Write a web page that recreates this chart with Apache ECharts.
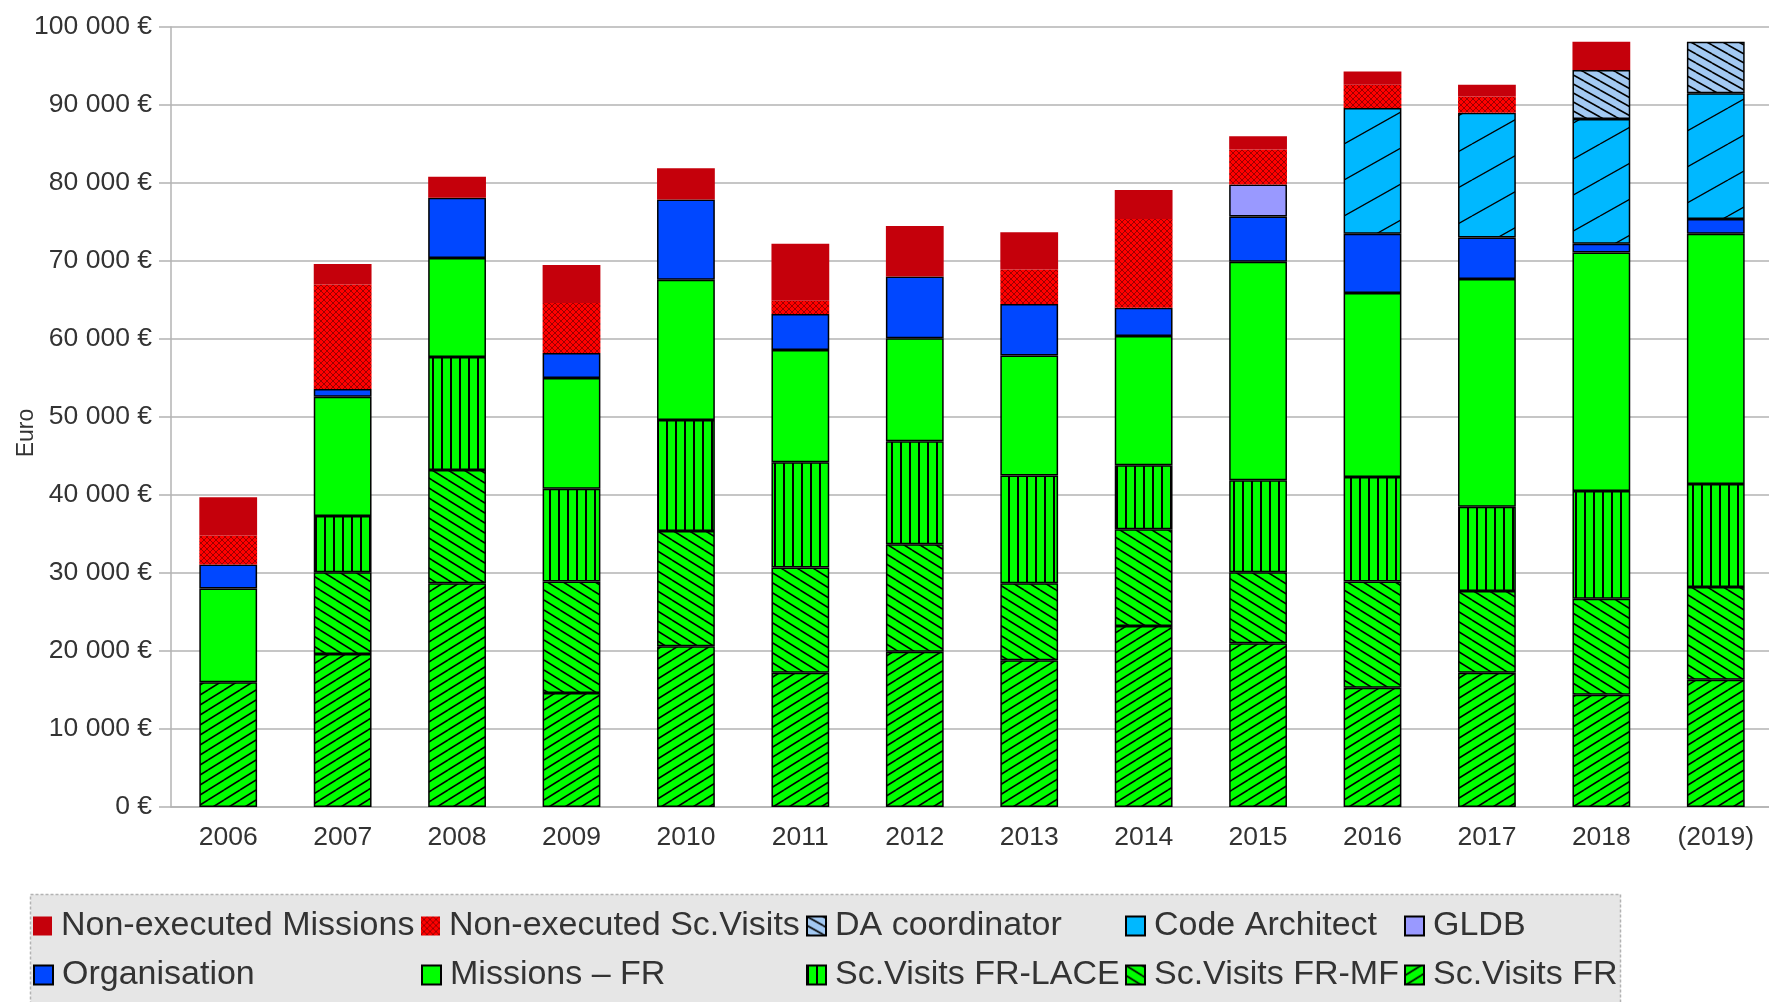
<!DOCTYPE html>
<html>
<head>
	<meta charset="UTF-8">
	<title>Budget par année</title>
	<script src="https://cdn.jsdelivr.net/npm/echarts@6/dist/echarts.min.js"></script>
	<style>
		html, body { margin: 0; padding: 0; background: #fff; }
		#main { width: 1769px; height: 1002px; }
	</style>
</head>
<body>
	<div id="main"></div>
	<script>

	var years = ['2006', '2007', '2008', '2009', '2010', '2011', '2012', '2013', '2014', '2015', '2016', '2017', '2018', '(2019)'];

	// euros (0 = no segment)
	var scVisitsFR   = [16000, 19600, 28700, 14600, 20600, 17200, 19900, 18800, 23200, 21000, 15300, 17200, 14400, 16300];
	var scVisitsMF   = [0, 10500, 14500, 14300, 14800, 13500, 13800, 9900, 12400, 9100, 13600, 10500, 12300, 11900];
	var scVisitsLACE = [0, 7200, 14500, 11900, 14200, 13500, 13200, 13800, 8200, 11800, 13400, 10800, 13800, 13200];
	var missionsFR   = [12000, 15300, 12700, 14200, 18000, 14400, 13200, 15400, 16600, 28000, 23600, 29200, 30600, 32100];
	var organisation = [3100, 1000, 7700, 3200, 10300, 4600, 7900, 6600, 3600, 5800, 7600, 5300, 1100, 1900];
	var gldb         = [0, 0, 0, 0, 0, 0, 0, 0, 0, 4100, 0, 0, 0, 0];
	var codeArchitect = [0, 0, 0, 0, 0, 0, 0, 0, 0, 0, 16100, 16000, 16000, 16100];
	var daCoordinator = [0, 0, 0, 0, 0, 0, 0, 0, 0, 0, 0, 0, 6300, 6600];
	var nonExecVisits = [3700, 13400, 0, 6400, 0, 1700, 0, 4400, 11400, 4500, 3000, 2100, 0, 0];
	var nonExecMissions = [4900, 2600, 2700, 4900, 4000, 7300, 6500, 4800, 3700, 1700, 1700, 1500, 3600, 0];

	var yTicks = { min: 0, max: 100000, step: 10000 };

	var fontFam = 'Liberation Sans';
	var gridGrey = '#b3b3b3';

	// hatch fills
	function tile(w, h, bg, draw, stroke, lw) {
		var c = document.createElement('canvas');
		c.width = w;
		c.height = h;
		var g = c.getContext('2d');
		g.fillStyle = bg;
		g.fillRect(0, 0, w, h);
		g.strokeStyle = stroke || '#000';
		g.fillStyle = stroke || '#000';
		g.lineWidth = lw || 1.6;
		draw(g, w, h);
		return { image: c, repeat: 'repeat' };
	}
	function slash(g, w, h) {
		for (var k = -1; k <= 1; k++) {
			g.beginPath();
			g.moveTo(0, h + k * h);
			g.lineTo(w, k * h);
			g.stroke();
		}
	}
	function backslash(g, w, h) {
		for (var k = -1; k <= 1; k++) {
			g.beginPath();
			g.moveTo(0, k * h);
			g.lineTo(w, h + k * h);
			g.stroke();
		}
	}
	function vertical(g, w, h) {
		g.fillRect(0, 0, 2, h);
	}
	function cross(g, w, h) {
		slash(g, w, h);
		backslash(g, w, h);
	}

	var seriesDefs = [
		{ name: 'Sc.Visits FR', data: scVisitsFR, color: tile(16, 10, '#00ff00', slash), border: true },
		{ name: 'Sc.Visits FR-MF', data: scVisitsMF, color: tile(16, 10, '#00ff00', backslash), border: true },
		{ name: 'Sc.Visits FR-LACE', data: scVisitsLACE, color: tile(9, 8, '#00ff00', vertical), border: true },
		{ name: 'Missions – FR', data: missionsFR, color: '#00ff00', border: true },
		{ name: 'Organisation', data: organisation, color: '#0047ff', border: true },
		{ name: 'GLDB', data: gldb, color: '#9999ff', border: true },
		{ name: 'Code Architect', data: codeArchitect, color: tile(64, 36, '#00b8ff', slash, '#000', 1.3), border: true },
		{ name: 'DA coordinator', data: daCoordinator, color: tile(16, 9, '#a3c9f2', backslash), border: true },
		{ name: 'Non-executed Sc.Visits', data: nonExecVisits, color: tile(6, 6, '#ff0000', cross, '#9a0000', 1), border: false },
		{ name: 'Non-executed Missions', data: nonExecMissions, color: '#c5000b', border: false }
	];

	// legend grid: two rows, five columns
	var legendRows = [
		['Non-executed Missions', 'Non-executed Sc.Visits', 'DA coordinator', 'Code Architect', 'GLDB'],
		['Organisation', 'Missions – FR', 'Sc.Visits FR-LACE', 'Sc.Visits FR-MF', 'Sc.Visits FR']
	];
	var legendCols = [33, 421, 806, 1125, 1404];
	var legendTops = [909, 958];

	function fmtEuro(v) {
		if (v === 0) return '0 €';
		return (v / 1000) + ' 000 €';
	}

	var series = seriesDefs.map(function(d) {
		return {
			name: d.name,
			type: 'bar',
			stack: 'total',
			barWidth: '50.5%',
			data: d.data.map(function(v) { return v === 0 ? '-' : v; }),
			itemStyle: {
				color: d.color,
				borderColor: '#000',
				borderWidth: d.border ? 1.5 : 0
			},
			emphasis: { disabled: true }
		};
	});

	var legends = [];
	legendRows.forEach(function(row, r) {
		row.forEach(function(name, c) {
			legends.push({
				left: legendCols[c],
				top: legendTops[r],
				data: [name],
				icon: 'rect',
				itemWidth: 19,
				itemHeight: 19,
				selectedMode: false,
				padding: 0,
				textStyle: {
					fontFamily: fontFam,
					fontSize: 34,
					color: '#333',
					padding: [0, 0, 0, 4]
				}
			});
		});
	});

	var option = {
		animation: false,
		textStyle: { fontFamily: fontFam },
		grid: {
			left: 171,
			right: -4,
			top: 27,
			bottom: 195,
			outerBoundsMode: 'none'
		},
		graphic: [{
			type: 'rect',
			z: -1,
			shape: { x: 30.5, y: 894.5, width: 1590, height: 130 },
			style: { fill: '#e6e6e6', stroke: gridGrey, lineWidth: 1.5, lineDash: [3, 2] }
		}],
		legend: legends,
		xAxis: {
			type: 'category',
			data: years,
			axisLine: { lineStyle: { color: gridGrey, width: 1.5 } },
			axisTick: { length: 12, lineStyle: { color: gridGrey, width: 1.5 } },
			axisLabel: { fontSize: 26.5, color: '#333', margin: 17, fontFamily: fontFam }
		},
		yAxis: {
			type: 'value',
			min: yTicks.min,
			max: yTicks.max,
			interval: yTicks.step,
			name: 'Euro',
			nameLocation: 'middle',
			nameGap: 133,
			nameMoveOverlap: false,
			nameTextStyle: { fontSize: 23, color: '#333', fontFamily: fontFam, padding: [0, 32, 0, 0] },
			axisLine: { show: true, lineStyle: { color: gridGrey, width: 1.5 } },
			axisTick: { show: true, length: 12, lineStyle: { color: gridGrey, width: 1.5 } },
			splitLine: { lineStyle: { color: gridGrey, width: 1.5 } },
			axisLabel: { fontSize: 26.5, color: '#333', margin: 19, fontFamily: fontFam, formatter: fmtEuro }
		},
		series: series
	};

	var myChart = echarts.init(document.getElementById('main'));
	myChart.setOption(option);

	</script>
</body>
</html>
